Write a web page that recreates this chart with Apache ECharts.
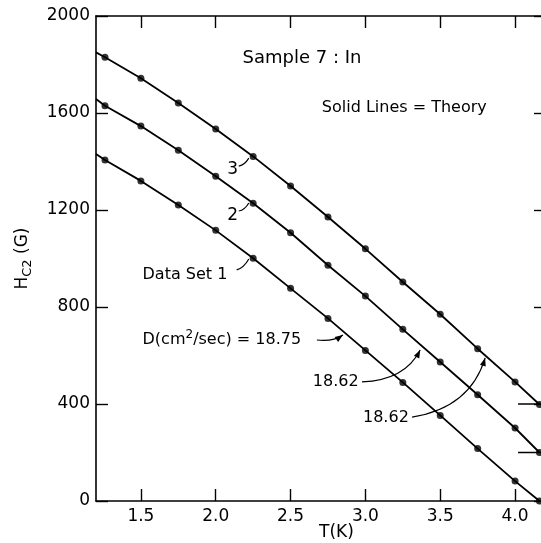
<!DOCTYPE html>
<html>
<head>
<meta charset="utf-8">
<script src="https://cdn.jsdelivr.net/npm/echarts@6/dist/echarts.min.js"></script>
<style>
html,body{margin:0;padding:0;background:#fff}
#main{width:541px;height:543px}
</style>
</head>
<body>
<div id="main"></div>
<script>
// T (K) of the measured points
var tempK = [1.26, 1.5, 1.75, 2.0, 2.25, 2.5, 2.75, 3.0, 3.25, 3.5, 3.75, 4.0, 4.163];
// Hc2 (G); sets 2 and 3 are shifted up by 200 G and 400 G
var set1 = [1406, 1320, 1221, 1116, 1001, 877, 753, 621, 489, 353, 216, 82, 0];
var set2 = [1630, 1546, 1446, 1339, 1228, 1106, 972, 845, 708, 573, 438, 301, 200];
var set3 = [1830, 1743, 1641, 1534, 1421, 1299, 1171, 1040, 903, 770, 628, 491, 398];
// theory lines start at the left frame
var theoryStartT = 1.2;
var theoryStart = [1431, 1658, 1850];
// zero levels of the shifted sets (marks at the right frame)
var zeroLevels = [200, 400];
var zeroMarkT = [4.02, 4.2];
var xTicks = [1.5, 2.0, 2.5, 3.0, 3.5, 4.0];

var FONT = 'DejaVu Sans';
var sets = [set1, set2, set3];

function pairs(ys) {
  return tempK.map(function (t, i) { return [t, ys[i]]; });
}

var series = [];
sets.forEach(function (ys, k) {
  // solid line = theory
  series.push({
    type: 'line',
    data: [[theoryStartT, theoryStart[k]]].concat(pairs(ys)),
    showSymbol: false,
    lineStyle: { color: '#000', width: 1.8 },
    silent: true,
    z: 2
  });
  // measured points
  series.push({
    type: 'scatter',
    data: pairs(ys),
    symbol: 'circle',
    symbolSize: 7,
    itemStyle: { color: '#000' },
    z: 3
  });
});
zeroLevels.forEach(function (h) {
  series.push({
    type: 'line',
    data: zeroMarkT.map(function (t) { return [t, h]; }),
    showSymbol: false,
    lineStyle: { color: '#000', width: 1.5 },
    silent: true
  });
});

function axisLine() {
  return { show: true, onZero: false, lineStyle: { color: '#000', width: 1.6 } };
}
function ticks(len, custom) {
  var t = { show: true, inside: true, length: len, lineStyle: { color: '#000', width: 1.4 } };
  if (custom) t.customValues = custom;
  return t;
}

var myChart = echarts.init(document.getElementById('main'));
var option = {
  backgroundColor: '#fff',
  animation: false,
  grid: { left: 96, right: -4, top: 16, bottom: 42, outerBoundsMode: 'none' },
  xAxis: [{
    type: 'value', min: 1.2, max: 4.2, position: 'bottom',
    axisLine: axisLine(),
    axisTick: ticks(12, xTicks),
    axisLabel: {
      customValues: xTicks, color: '#000', fontSize: 17, fontFamily: FONT, margin: 7,
      formatter: function (v) { return v.toFixed(1); }
    },
    splitLine: { show: false },
    name: 'T(K)', nameLocation: 'middle', nameGap: 23, nameMoveOverlap: false,
    nameTextStyle: { color: '#000', fontSize: 17, fontFamily: FONT, padding: [0, 0, 0, 32] }
  }, {
    type: 'value', min: 1.2, max: 4.2, position: 'top',
    axisLine: axisLine(),
    axisTick: ticks(12, xTicks),
    axisLabel: { show: false },
    splitLine: { show: false }
  }],
  yAxis: [{
    type: 'value', min: 0, max: 2000, interval: 400, position: 'left',
    axisLine: axisLine(),
    axisTick: ticks(12),
    axisLabel: {
      color: '#000', fontSize: 17, fontFamily: FONT, margin: 6,
      formatter: function (v) { return String(v); }
    },
    splitLine: { show: false },
    name: 'H{s|C2} (G)', nameLocation: 'middle', nameRotate: 90, nameGap: 62,
    nameTextStyle: {
      color: '#000', fontSize: 17, fontFamily: FONT, lineHeight: 22,
      rich: { s: { fontSize: 13, fontFamily: FONT, color: '#000', verticalAlign: 'bottom', lineHeight: 22 } }
    }
  }, {
    type: 'value', min: 0, max: 2000, interval: 400, position: 'right',
    axisLine: axisLine(),
    axisTick: ticks(11),
    axisLabel: { show: false },
    splitLine: { show: false }
  }],
  series: series
};
myChart.setOption(option);

// annotations, positioned in data units
var notes = [
  { text: 'Sample 7 : In', t: 2.576, h: 1827, align: 'center', size: 18 },
  { text: 'Solid Lines = Theory', t: 3.26, h: 1621, align: 'center', size: 16 },
  { text: '3', t: 2.113, h: 1365, align: 'center', size: 17 },
  { text: '2', t: 2.113, h: 1179, align: 'center', size: 17 },
  { text: 'Data Set 1', t: 1.511, h: 932, align: 'left', size: 16 },
  { text: 'D(cm{sup|2}/sec) = 18.75', t: 1.511, h: 664, align: 'left', size: 16 },
  { text: '18.62', t: 2.649, h: 491, align: 'left', size: 16 },
  { text: '18.62', t: 2.984, h: 342, align: 'left', size: 16 }
];
// leader curves: start, control, end (data units); arrow at end if set
var leaders = [
  { p: [2.154, 1381, 2.194, 1386, 2.221, 1414], arrow: false },
  { p: [2.154, 1196, 2.194, 1200, 2.221, 1229], arrow: false },
  { p: [2.140, 953, 2.187, 961, 2.221, 998], arrow: false },
  { p: [2.676, 664, 2.783, 656, 2.850, 685], arrow: true },
  { p: [2.977, 491, 3.265, 499, 3.366, 623], arrow: true },
  { p: [3.312, 346, 3.700, 384, 3.800, 590], arrow: true }
];

function px(t, h) {
  return myChart.convertToPixel({ xAxisIndex: 0, yAxisIndex: 0 }, [t, h]);
}

var graphic = [];
notes.forEach(function (n) {
  var p = px(n.t, n.h);
  graphic.push({
    type: 'text', x: p[0], y: p[1], silent: true,
    style: {
      text: n.text, fill: '#000', fontSize: n.size, fontFamily: FONT,
      align: n.align, verticalAlign: 'middle',
      rich: { sup: { fontSize: 12, fontFamily: FONT, fill: '#000', verticalAlign: 'top', lineHeight: 22 } }
    }
  });
});
leaders.forEach(function (l) {
  var a = px(l.p[0], l.p[1]), c = px(l.p[2], l.p[3]), b = px(l.p[4], l.p[5]);
  graphic.push({
    type: 'bezierCurve', silent: true,
    shape: { x1: a[0], y1: a[1], cpx1: c[0], cpy1: c[1], x2: b[0], y2: b[1] },
    style: { stroke: '#000', lineWidth: 1.2, fill: null }
  });
  if (l.arrow) {
    var dx = b[0] - c[0], dy = b[1] - c[1];
    var len = Math.sqrt(dx * dx + dy * dy);
    dx /= len; dy /= len;
    var L = 8, W = 3;
    graphic.push({
      type: 'polygon', silent: true,
      shape: { points: [
        [b[0], b[1]],
        [b[0] - dx * L - dy * W, b[1] - dy * L + dx * W],
        [b[0] - dx * L + dy * W, b[1] - dy * L - dx * W]
      ] },
      style: { fill: '#000' }
    });
  }
});
myChart.setOption({ graphic: graphic });

window.addEventListener('resize', function () {
  myChart.resize();
});
</script>
</body>
</html>
